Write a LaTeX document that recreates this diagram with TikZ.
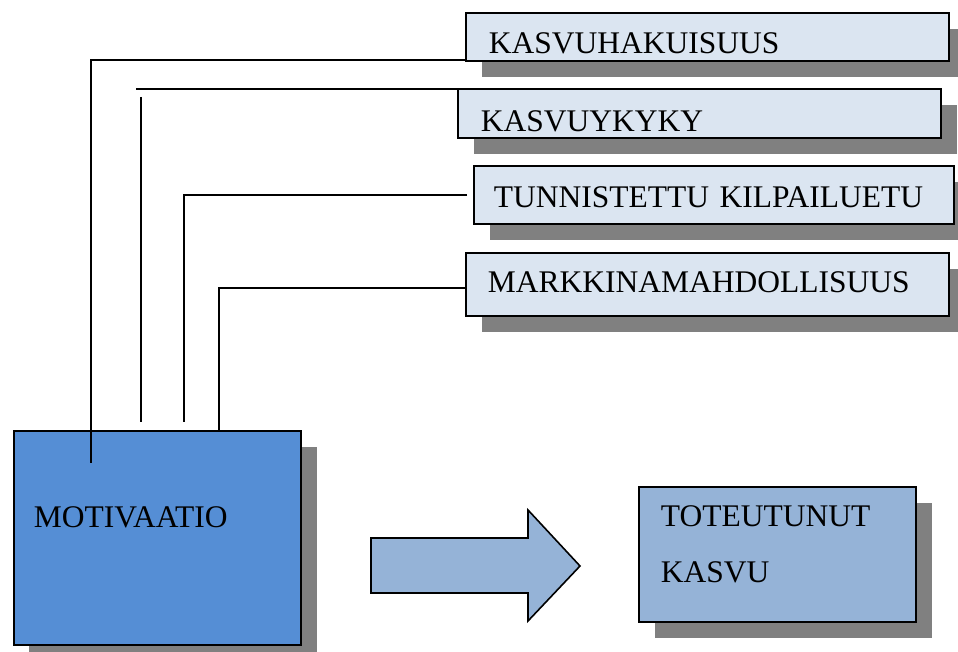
\documentclass[tikz,border=0pt]{standalone}
\usepackage{fontspec}
\setmainfont{Liberation Serif}
\usetikzlibrary{shadows}
\definecolor{lightbox}{RGB}{219,229,241}
\definecolor{motiblue}{RGB}{85,142,213}
\definecolor{paleblue}{RGB}{149,179,215}
\definecolor{shadowgray}{RGB}{128,128,128}

\begin{document}
\begin{tikzpicture}[
    x=1pt, y=-1pt,
    tbox/.style={rectangle, draw=black, line width=1.8pt, fill=lightbox, anchor=north west, inner ysep=0pt, align=left, font=\fontsize{31.5}{56}\selectfont, drop shadow={shadow xshift=16pt, shadow yshift=-16pt, fill=shadowgray, opacity=1}},
    conn/.style={line width=2pt, color=black},
    bigarrow/.style={draw=black, line width=1.6pt, fill=paleblue, line join=miter}
]
\useasboundingbox (0,0) rectangle (958,652);

% Factor boxes
\node[tbox, inner xsep=23pt, text width=437pt, text height=41pt, text depth=7pt] (kasvuhak) at (465,12) {KASVUHAKUISUUS};
\node[tbox, inner xsep=23pt, text width=437pt, text height=43pt, text depth=6pt] (kasvuyky) at (457,88) {KASVUYKYKY};
\node[tbox, inner xsep=20pt, text width=440pt, text height=42pt, text depth=16pt] (tunnist) at (473,165) {TUNNISTETTU KILPAILUETU};
\node[tbox, inner xsep=22pt, text width=439pt, text height=40pt, text depth=23pt] (markkina) at (465,252) {MARKKINAMAHDOLLISUUS};

% Motivation and outcome
\node[tbox, fill=motiblue, inner xsep=20pt, text width=247pt, text height=97pt, text depth=117pt, drop shadow={shadow xshift=15pt, shadow yshift=-16pt, fill=shadowgray, opacity=1}] (motivaatio) at (13,430) {MOTIVAATIO};
\node[tbox, fill=paleblue, inner xsep=22pt, text width=233pt, text height=40pt, text depth=95pt] (toteutunut) at (638,486) {TOTEUTUNUT\\KASVU};

% Line ends
\coordinate (m1) at (91,463);
\coordinate (m2a) at (136,89);
\coordinate (m2b) at (141,97);
\coordinate (m2c) at (141,422);
\coordinate (m3) at (184,422);
\coordinate (m4) at (219,430);

% Connectors
\draw[conn] ([yshift=2pt]kasvuhak.south west) -| (m1);
\draw[conn] ([yshift=-1pt]kasvuyky.north west) -- (m2a);
\draw[conn] (m2b) -- (m2c);
\draw[conn] ([xshift=-6pt]tunnist.west) -| (m3);
\draw[conn] ([yshift=-4pt]markkina.west) -| (m4);

% Arrow
\draw[bigarrow] (371,538) -- (528,538) -- (528,510) -- (580,566) -- (528,621) -- (528,593) -- (371,593) -- cycle;

\end{tikzpicture}
\end{document}
